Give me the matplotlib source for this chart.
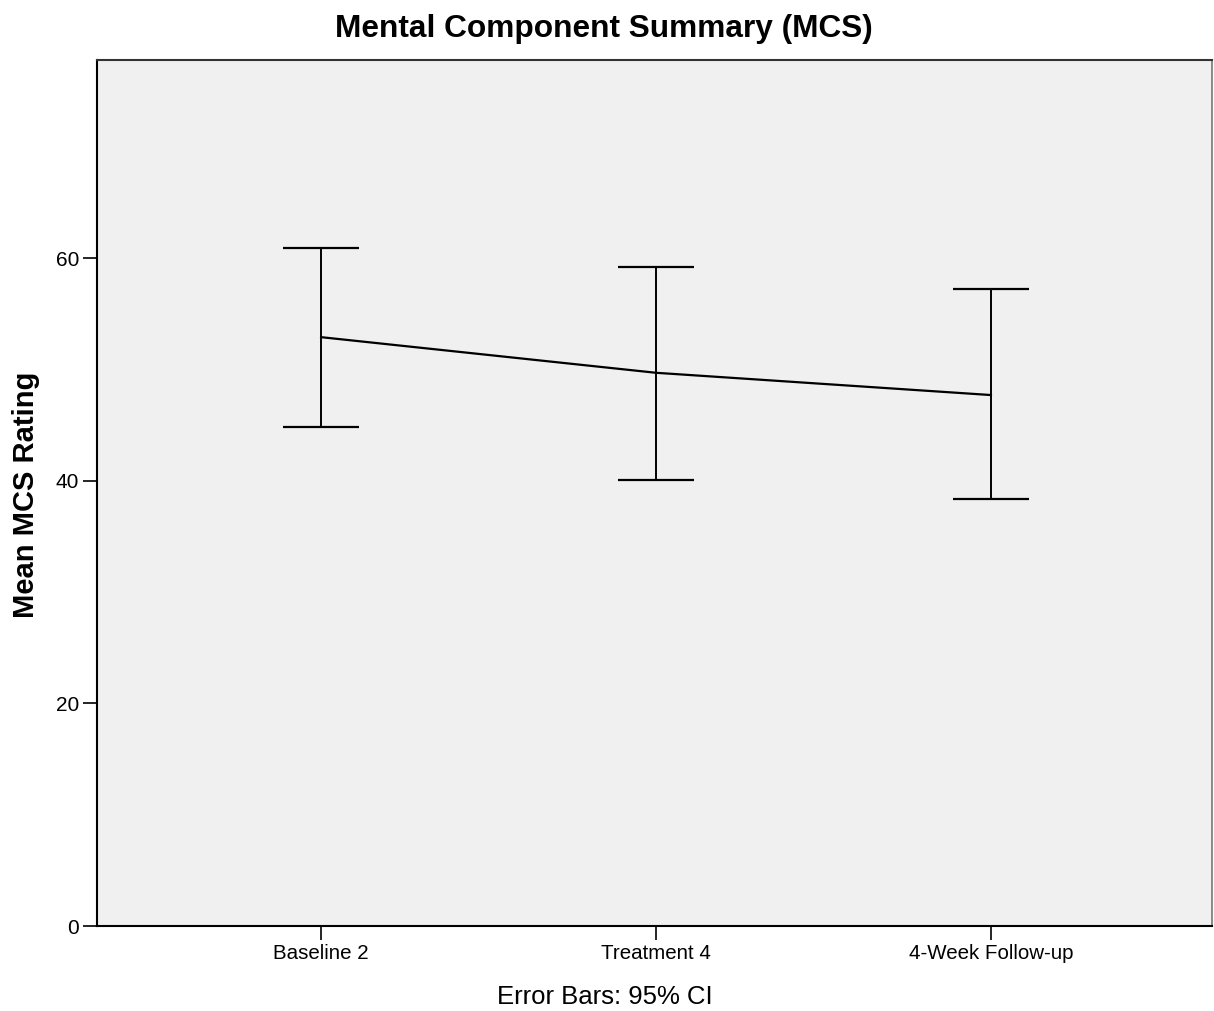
import matplotlib
matplotlib.use("Agg")
import matplotlib.pyplot as plt
import numpy as np

categories = ["Baseline 2", "Treatment 4", "4-Week Follow-up"]
means = [52.9, 49.7, 47.7]
ci_lower = [44.8, 40.1, 38.4]
ci_upper = [60.9, 59.2, 57.2]
yticks = [0, 20, 40, 60]

plt.rcParams['font.family'] = ['Liberation Sans', 'DejaVu Sans']

W, H = 1214, 1011
fig = plt.figure(figsize=(W / 100, H / 100), dpi=100)
ax = fig.add_axes([97 / W, 1 - 926 / H, (1212 - 97) / W, (926 - 60) / H])
ax.set_facecolor('#F0F0F0')

x = np.arange(len(categories))
means_a = np.array(means)
yerr = np.vstack([means_a - np.array(ci_lower), np.array(ci_upper) - means_a])
ax.plot(x, means_a, color='black', lw=1.6, zorder=3)
ax.errorbar(x, means_a, yerr=yerr, fmt='none', ecolor='black', elinewidth=1.4,
            capsize=27.5, capthick=1.6, zorder=3)

ax.set_xlim(-0.669, 2.66)
ax.set_ylim(0, 77.8)
ax.set_xticks(x)
ax.set_xticklabels(categories, fontsize=14.8)
ax.set_yticks(yticks)
ax.set_yticklabels([str(t) for t in yticks], fontsize=15)
ax.tick_params(axis='both', direction='out', length=10, width=1.2, color='black', pad=3)

for side in ['left', 'bottom']:
    ax.spines[side].set_color('black')
    ax.spines[side].set_linewidth(1.5)
ax.spines['top'].set_color('#333333')
ax.spines['top'].set_linewidth(1.5)
ax.spines['right'].set_color('#777777')
ax.spines['right'].set_linewidth(1.2)

fig.text(604 / W, 1 - 29 / H, 'Mental Component Summary (MCS)', fontsize=22.8, fontweight='bold',
         ha='center', va='center')
fig.text(26 / W, 1 - 495 / H, 'Mean MCS Rating', fontsize=21, fontweight='bold',
         rotation=90, ha='center', va='center')
fig.text(605 / W, 1 - 997 / H, 'Error Bars: 95% CI', fontsize=18.5, ha='center', va='center')

fig.savefig('out.png', dpi=100)
